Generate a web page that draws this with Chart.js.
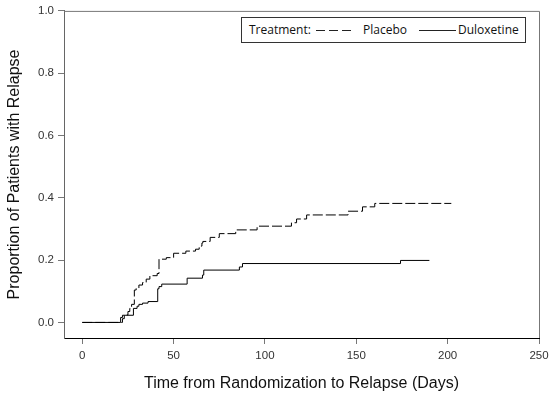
<!DOCTYPE html>
<html>
<head>
<meta charset="utf-8">
<script src="https://cdn.jsdelivr.net/npm/chart.js@4.4.1/dist/chart.umd.min.js"></script>
<style>
  html, body { margin: 0; padding: 0; background: #fff; }
  #wrap { position: relative; width: 556px; height: 396px; }
  #legend {
    position: absolute; left: 241px; top: 17px; width: 283px; height: 24px;
    border: 1px solid #333; background: #fff;
    font-family: "Open Sans", "Noto Sans", sans-serif; font-size: 12px; color: #111;
  }
  #legend span { position: absolute; top: 4px; line-height: 16px; white-space: nowrap; }
  #legend svg { position: absolute; top: 11px; }
</style>
</head>
<body>
<div id="wrap">
  <canvas id="c" width="556" height="396"></canvas>
  <div id="legend">
    <span style="left:7px">Treatment:</span>
    <svg style="left:74px" width="36" height="3"><line x1="0" y1="1.5" x2="36" y2="1.5" stroke="#222" stroke-width="1.2" stroke-dasharray="9,4"/></svg>
    <span style="left:121px">Placebo</span>
    <svg style="left:177px" width="37" height="3"><line x1="0" y1="1.5" x2="37" y2="1.5" stroke="#222" stroke-width="1.2"/></svg>
    <span style="left:216px">Duloxetine</span>
  </div>
</div>
<script>
// ---- data ----
const placeboDays = [0, 22, 23, 25, 26, 27, 28.5, 29.5, 31, 33, 35, 37, 41, 42, 46, 50, 56.7, 62, 64, 65.5, 66, 70, 75, 84, 95.7, 114.5, 117.3, 122.8, 145.5, 153.4, 160.1, 202];
const placeboProp = [0, 0.012, 0.024, 0.035, 0.045, 0.058, 0.104, 0.11, 0.12, 0.128, 0.139, 0.15, 0.157, 0.203, 0.208, 0.222, 0.229, 0.235, 0.245, 0.255, 0.26, 0.273, 0.285, 0.297, 0.309, 0.32, 0.332, 0.345, 0.357, 0.371, 0.382, 0.382];
const duloxDays = [0, 21, 22, 28, 30, 31, 33, 36, 41.3, 42, 43.5, 57.4, 65.8, 66.5, 86, 87.7, 174.2, 190];
const duloxProp = [0, 0.016, 0.023, 0.045, 0.052, 0.058, 0.062, 0.067, 0.108, 0.115, 0.123, 0.142, 0.152, 0.168, 0.178, 0.189, 0.199, 0.199];
const xTicks = [0, 50, 100, 150, 200, 250];
const yTicks = [0, 0.2, 0.4, 0.6, 0.8, 1.0];
const xTitle = "Time from Randomization to Relapse (Days)";
const yTitle = "Proportion of Patients with Relapse";

const toPts = (xs, ys) => xs.map((x, i) => ({ x: x, y: ys[i] }));

const frame = {
  id: 'frame',
  afterDraw(chart) {
    const a = chart.chartArea, ctx = chart.ctx;
    ctx.save();
    ctx.strokeStyle = '#777';
    ctx.lineWidth = 1;
    ctx.beginPath();
    ctx.moveTo(a.left, a.top + 0.5);
    ctx.lineTo(a.right + 0.5, a.top + 0.5);
    ctx.lineTo(a.right + 0.5, a.bottom);
    ctx.stroke();
    ctx.restore();
  }
};

new Chart(document.getElementById('c'), {
  type: 'line',
  data: {
    datasets: [
      { label: 'Placebo', data: toPts(placeboDays, placeboProp), stepped: 'before',
        borderColor: '#000', borderWidth: 1, borderDash: [10, 3], pointRadius: 0, fill: false },
      { label: 'Duloxetine', data: toPts(duloxDays, duloxProp), stepped: 'before',
        borderColor: '#000', borderWidth: 1, pointRadius: 0, fill: false }
    ]
  },
  options: {
    responsive: false,
    animation: false,
    devicePixelRatio: 1,
    layout: { padding: { left: 0, top: 6, right: 17, bottom: 0 } },
    plugins: { legend: { display: false }, tooltip: { enabled: false } },
    scales: {
      x: {
        type: 'linear', min: -10, max: 250,
        afterBuildTicks: s => { s.ticks = xTicks.map(v => ({ value: v })); },
        afterFit: s => { s.height = 58; },
        ticks: { font: { family: 'Liberation Sans, Arial', size: 11.5 }, color: '#333', padding: 5, maxRotation: 0,
                 callback: v => String(v) },
        grid: { drawOnChartArea: false, drawTicks: true, tickLength: 6, color: '#777' },
        border: { display: true, color: '#000', width: 1 },
        title: { display: true, text: xTitle, font: { family: 'Liberation Sans, Arial', size: 16 }, color: '#111',
                 padding: { top: 0, bottom: 3 } }
      },
      y: {
        type: 'linear', min: -0.05, max: 1.0,
        afterBuildTicks: s => { s.ticks = yTicks.map(v => ({ value: v })); },
        afterFit: s => { s.width = 64; },
        ticks: { font: { family: 'Liberation Sans, Arial', size: 11.5 }, color: '#333', padding: 4,
                 callback: v => Number(v).toFixed(1) },
        grid: { drawOnChartArea: false, drawTicks: true, tickLength: 6, color: '#777' },
        border: { display: true, color: '#666', width: 1 },
        title: { display: true, text: yTitle, font: { family: 'Liberation Sans, Arial', size: 16 }, color: '#111',
                 padding: { top: 5, bottom: 0 } }
      }
    }
  },
  plugins: [frame]
});
</script>
</body>
</html>
